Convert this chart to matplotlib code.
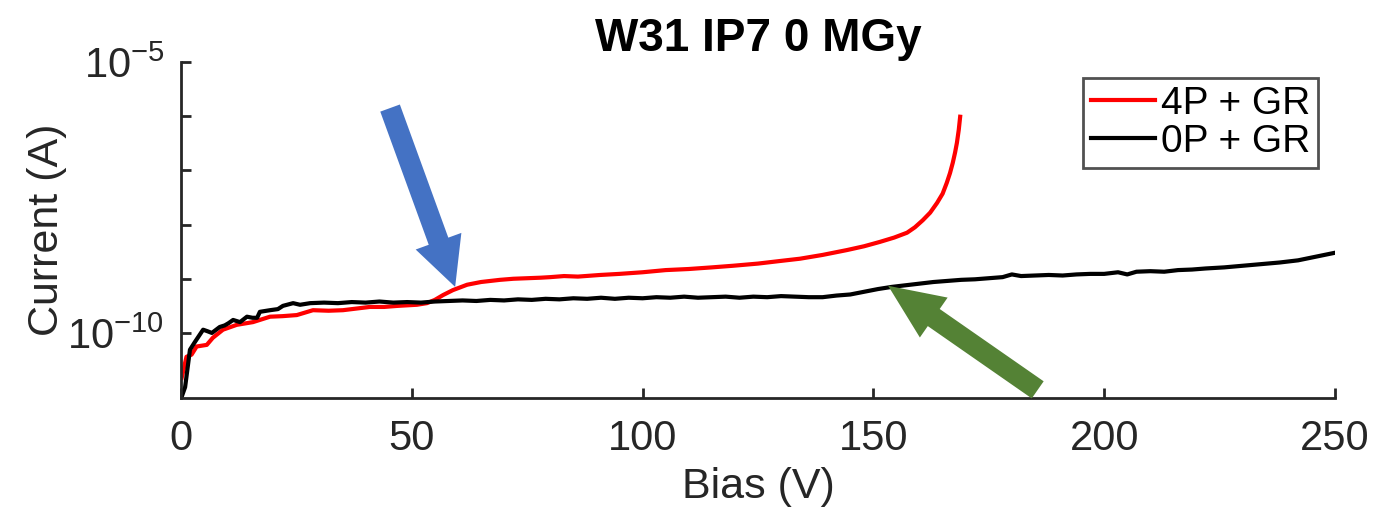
import numpy as np
import matplotlib; matplotlib.use('Agg')
import matplotlib.pyplot as plt
from matplotlib.patches import FancyArrowPatch

plt.rcParams['font.family'] = ['Liberation Sans', 'DejaVu Sans']
plt.rcParams['mathtext.fontset'] = 'custom'
plt.rcParams['mathtext.rm'] = 'Liberation Sans'
plt.rcParams['mathtext.it'] = 'Liberation Sans'

# IV scan, 0P + GR (bias in V, log10 of current in A)
bias_0p = [0.15, 0.9, 1.95, 3.0, 4.8, 5.8, 6.7, 8.4, 9.5, 10.3, 11.3, 12.8, 14.3, 15.5,
           16.5, 17.1, 19.3, 21.0, 22.1, 24.3, 25.8, 28.0, 31, 34, 37, 40, 43, 46, 49,
           52, 55, 58, 61, 64, 67, 70, 73, 76, 79, 82, 85, 88, 91, 94, 97, 100, 103,
           106, 109, 112, 115, 118, 121, 124, 127, 130, 133, 136, 139, 142, 145, 148,
           151, 154, 157, 160, 163, 166, 169, 172, 175, 178, 180, 182, 185, 188, 191,
           194, 197, 200, 203, 205, 207, 210, 213, 216, 219, 222, 226, 230, 234, 238,
           242, 246, 250]
logi_0p = [-11.18, -11.0, -10.31, -10.17, -9.94, -9.97, -10.0, -9.89, -9.86, -9.82,
           -9.76, -9.80, -9.70, -9.72, -9.72, -9.61, -9.58, -9.56, -9.50, -9.45, -9.48,
           -9.45, -9.44, -9.45, -9.43, -9.44, -9.42, -9.44, -9.43, -9.44, -9.42, -9.41,
           -9.40, -9.41, -9.39, -9.40, -9.38, -9.39, -9.37, -9.38, -9.36, -9.37, -9.35,
           -9.37, -9.35, -9.36, -9.34, -9.35, -9.33, -9.35, -9.34, -9.33, -9.35, -9.33,
           -9.34, -9.32, -9.33, -9.34, -9.34, -9.31, -9.29, -9.24, -9.19, -9.15, -9.12,
           -9.09, -9.06, -9.04, -9.02, -9.01, -8.99, -8.97, -8.92, -8.95, -8.94, -8.93,
           -8.94, -8.92, -8.91, -8.91, -8.88, -8.92, -8.87, -8.86, -8.87, -8.84, -8.83,
           -8.81, -8.79, -8.76, -8.73, -8.70, -8.66, -8.59, -8.52]

# IV scan, 4P + GR
bias_4p = [0.15, 1.2, 2.3, 3.4, 5.6, 6.9, 9.1, 12.1, 15.6, 19.3, 22, 25.1, 28.6, 32,
           35.1, 38, 40.9, 44, 47, 51.1, 53.3, 55, 56.8, 58.9, 62.0, 65, 69.1, 72, 75,
           78, 80, 83, 86, 90.8, 95, 100, 105, 110, 115, 119.6, 125, 130, 134.1, 139,
           144.3, 148, 151.4, 154.5, 157.3, 159, 160.7, 162.3, 163.8, 165, 165.9, 166.6,
           167.2, 167.7, 168.1, 168.5, 168.8]
logi_4p = [-10.83, -10.44, -10.40, -10.25, -10.22, -10.09, -9.94, -9.85, -9.80, -9.70,
           -9.69, -9.67, -9.58, -9.59, -9.58, -9.55, -9.52, -9.52, -9.50, -9.48, -9.45,
           -9.39, -9.30, -9.21, -9.11, -9.06, -9.02, -9.00, -8.99, -8.98, -8.97, -8.95,
           -8.96, -8.93, -8.91, -8.88, -8.84, -8.82, -8.79, -8.76, -8.72, -8.67, -8.63,
           -8.56, -8.47, -8.40, -8.32, -8.24, -8.15, -8.05, -7.92, -7.78, -7.60, -7.43,
           -7.23, -7.05, -6.86, -6.67, -6.49, -6.25, -6.01]

fig = plt.figure(figsize=(13.75, 5.18), dpi=100)
ax = fig.add_axes([0.1316, 0.2317, 0.8393, 0.6486])

ax.semilogy(bias_4p, 10.0 ** np.array(logi_4p), color='#ff0000', lw=3.0, label='4P + GR')
ax.semilogy(bias_0p, 10.0 ** np.array(logi_0p), color='black', lw=3.0, label='0P + GR')

ax.set_xlim(0, 250)
ax.set_ylim(10 ** -11.2, 1e-5)
ax.set_xticks([0, 50, 100, 150, 200, 250])
ax.set_yticks([1e-10, 1e-9, 1e-8, 1e-7, 1e-6, 1e-5])
ax.set_yticklabels(['$10^{-10}$', '', '', '', '', '$10^{-5}$'])
ax.yaxis.set_minor_locator(plt.NullLocator())

for s in ['top', 'right']:
    ax.spines[s].set_visible(False)
for s in ['left', 'bottom']:
    ax.spines[s].set_color('#262626')
    ax.spines[s].set_linewidth(2.0)
ax.tick_params(direction='in', length=7, width=2.0, colors='#262626', labelsize=30)
ax.tick_params(axis='x', pad=15)
ax.tick_params(axis='y', pad=12)

ax.set_xlabel('Bias (V)', fontsize=31, color='#262626', labelpad=6)
ax.set_ylabel('Current (A)', fontsize=31, color='#262626', labelpad=0)
ax.set_title('W31 IP7 0 MGy', fontsize=33, fontweight='bold', pad=8)

leg = ax.legend(loc='upper right', bbox_to_anchor=(0.985, 0.952), fontsize=28,
                frameon=True, fancybox=False, handlelength=1.65, handletextpad=0.15,
                borderpad=0.2, labelspacing=0.05, borderaxespad=0)
leg.get_frame().set_edgecolor('#262626')
leg.get_frame().set_linewidth(2.0)

# arrows marking the onset of the current rise
for tail, tip, col, hl in [((45.3, 10 ** -5.85), (59.4, 10 ** -9.15), '#4472c4', 35),
                           ((185.6, 10 ** -11.05), (153.2, 10 ** -9.13), '#548235', 40)]:
    ax.add_patch(FancyArrowPatch(tail, tip,
                                 arrowstyle=f'simple,head_length={hl},head_width=35,tail_width=15',
                                 mutation_scale=1, shrinkA=0, shrinkB=0, color=col,
                                 clip_on=False, zorder=6, lw=0))

fig.savefig('out.png', dpi=100)
